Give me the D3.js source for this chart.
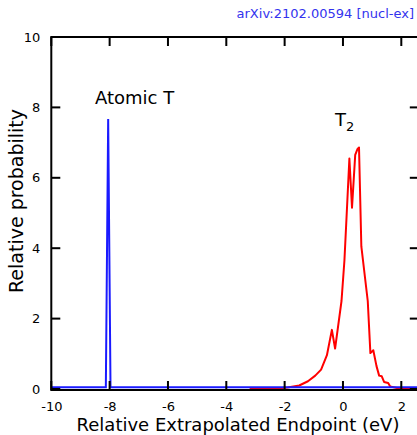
<!DOCTYPE html>
<html>
<head>
<meta charset="utf-8">
<script src="https://cdn.jsdelivr.net/npm/d3@7"></script>
<style>
  body { margin: 0; background: #fff; }
  svg { display: block; font-family: 'DejaVu Sans', sans-serif; }
</style>
</head>
<body>
<div id="graf"></div>
<script>
// -- Datos
xTicks = [-10, -8, -6, -4, -2, 0, 2]
yTicks = [0, 2, 4, 6, 8, 10]

// Atomic T (azul)
atomX = [-10, -8.13, -8.05, -7.97, 2.7]
atomY = [0.05, 0.05, 7.67, 0.05, 0.05]

// T2 (rojo)
t2X = [-3.2, -2.6, -2.2, -1.9, -1.5, -1.2, -0.95, -0.75, -0.55, -0.38, -0.27, -0.05, 0.05, 0.15, 0.22, 0.31, 0.42, 0.5, 0.55, 0.63, 0.85, 0.94, 1.04, 1.15, 1.24, 1.33, 1.41, 1.55, 1.62, 1.85, 2.0, 2.6]
t2Y = [0.0, 0.01, 0.02, 0.04, 0.1, 0.22, 0.38, 0.55, 0.96, 1.68, 1.15, 2.5, 3.65, 5.35, 6.55, 5.15, 6.65, 6.82, 6.86, 4.05, 2.5, 1.02, 1.1, 0.65, 0.38, 0.36, 0.2, 0.17, 0.07, 0.03, 0.0, 0.0]

ancho_total = 417
alto_total = 435

svg = d3.select('#graf').append('svg')
        .attr('width', ancho_total)
        .attr('height', alto_total)

// -- Escaladores
x = d3.scaleLinear().domain([-10, 2.6]).range([51.3, 418.8])
y = d3.scaleLinear().domain([0, 10]).range([389, 37])

// -- Clip del área de datos
svg.append('clipPath').attr('id', 'clip')
   .append('rect')
   .attr('x', x(-10)).attr('y', y(10))
   .attr('width', x(2.6) - x(-10)).attr('height', y(0) - y(10))

linea = d3.line().x(d => x(d[0])).y(d => y(d[1]))

datosT2 = t2X.map((v, i) => [v, t2Y[i]])
datosAtom = atomX.map((v, i) => [v, atomY[i]])

svg.append('path')
   .attr('clip-path', 'url(#clip)')
   .attr('d', linea(datosT2))
   .attr('fill', 'none')
   .attr('stroke', '#ff0000')
   .attr('stroke-width', 2)
   .attr('stroke-linejoin', 'round')

svg.append('path')
   .attr('clip-path', 'url(#clip)')
   .attr('d', linea(datosAtom))
   .attr('fill', 'none')
   .attr('stroke', '#1a1aff')
   .attr('stroke-width', 2)

// -- Ejes: las etiquetas con d3.axis
largo = 9
grosor = 2
fmt = d => String(d)
abajo = d3.axisBottom(x).tickValues(xTicks).tickSize(0).tickPadding(12).tickFormat(fmt)
izq = d3.axisLeft(y).tickValues(yTicks).tickSize(0).tickPadding(11).tickFormat(fmt)

gx = svg.append('g').attr('transform', `translate(0,${y(0) + 1})`).call(abajo)
gy = svg.append('g').attr('transform', `translate(${x(-10)},0)`).call(izq)
;[gx, gy].forEach(gEje => {
  gEje.select('.domain').remove()
  gEje.selectAll('.tick line').remove()
  gEje.selectAll('.tick text').attr('font-size', 13).attr('fill', '#000')
        .attr('font-family', "'DejaVu Sans', sans-serif")
})

// -- Marcas hacia adentro, como rectángulos finos
marcas = svg.append('g').attr('fill', '#000')
marcas.selectAll('.mx-abajo').data(xTicks).join('rect')
   .attr('x', d => x(d) - grosor / 2).attr('y', y(0) + 1 - largo)
   .attr('width', grosor).attr('height', largo)
marcas.selectAll('.mx-arriba').data(xTicks).join('rect')
   .attr('x', d => x(d) - grosor / 2).attr('y', y(10))
   .attr('width', grosor).attr('height', largo)
marcas.selectAll('.my-izq').data(yTicks).join('rect')
   .attr('x', x(-10)).attr('y', d => y(d) - grosor / 2)
   .attr('width', largo).attr('height', grosor)
marcas.selectAll('.my-der').data(yTicks).join('rect')
   .attr('x', x(2.6) - largo).attr('y', d => y(d) - grosor / 2)
   .attr('width', largo).attr('height', grosor)

// -- Marco
svg.append('rect')
   .attr('x', x(-10)).attr('y', y(10))
   .attr('width', x(2.6) - x(-10)).attr('height', y(0) + 1 - y(10))
   .attr('fill', 'none')
   .attr('stroke', '#000')
   .attr('stroke-width', 2)

// -- Textos
svg.append('text')
   .attr('x', 414).attr('y', 18)
   .attr('text-anchor', 'end')
   .attr('font-size', 13)
   .attr('fill', '#3333ee')
   .text('arXiv:2102.00594 [nucl-ex]')

svg.append('text')
   .attr('x', 238).attr('y', 431)
   .attr('text-anchor', 'middle')
   .attr('font-size', 18)
   .attr('fill', '#000')
   .text('Relative Extrapolated Endpoint (eV)')

svg.append('text')
   .attr('transform', 'translate(23,201) rotate(-90)')
   .attr('text-anchor', 'middle')
   .attr('font-size', 19)
   .attr('fill', '#000')
   .text('Relative probability')

svg.append('text')
   .attr('x', 95).attr('y', 104)
   .attr('font-size', 18)
   .attr('fill', '#000')
   .text('Atomic T')

t2 = svg.append('text')
   .attr('x', 335).attr('y', 126)
   .attr('font-size', 18)
   .attr('fill', '#000')
t2.append('tspan').text('T')
t2.append('tspan').attr('dy', 5).attr('font-size', 13).text('2')
</script>
</body>
</html>
